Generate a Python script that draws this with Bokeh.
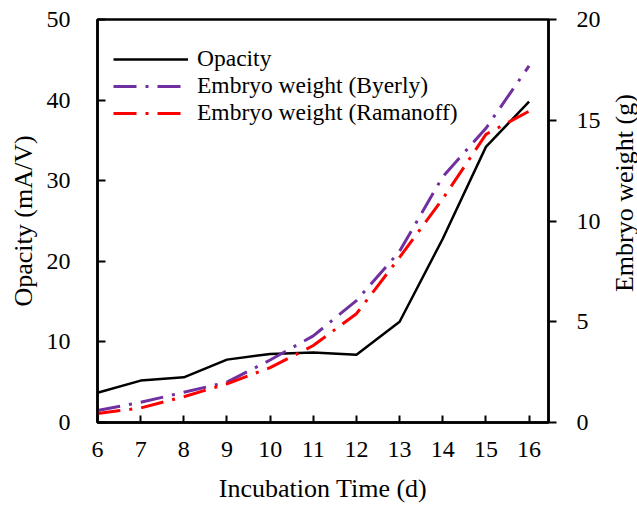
import math
from bokeh.plotting import figure
from bokeh.layouts import row
from bokeh.models import Range1d, LinearAxis, FixedTicker, Legend, LegendItem
from bokeh.core.properties import value
from bokeh.embed import file_html
from bokeh.resources import INLINE

days = [6, 7, 8, 9, 10, 11, 12, 13, 14, 15, 16]
opacity = [3.7, 5.2, 5.6, 7.8, 8.5, 8.7, 8.4, 12.5, 22.8, 34.2, 39.8]
byerly = [0.6, 1.0, 1.5, 2.0, 3.1, 4.3, 6.05, 8.5, 12.2, 14.6, 17.7]
ramanoff = [0.45, 0.72, 1.28, 1.92, 2.72, 3.82, 5.4, 8.2, 11.1, 14.3, 15.45]

left_ticks = [0, 10, 20, 30, 40, 50]
right_ticks = [0, 5, 10, 15, 20]

x_title = "Incubation Time (d)"
left_title = "Opacity (mA/V)"
right_title = "Embryo weight (g)"

FONT = "Liberation Serif"

p = figure(frame_width=451, frame_height=403, output_backend="svg", toolbar_location=None,
           x_range=Range1d(6, 16.45), y_range=Range1d(0, 50),
           min_border_left=97, min_border_right=62, min_border_top=19, min_border_bottom=84)
p.extra_y_ranges = {"w": Range1d(0, 20)}
p.xgrid.visible = False
p.ygrid.visible = False
p.outline_line_color = "black"
p.outline_line_width = 2.5
p.background_fill_color = "white"
p.border_fill_color = "white"

def style_axis(ax):
    ax.axis_line_width = 2.5
    ax.axis_line_color = "black"
    ax.major_tick_line_width = 2
    ax.major_tick_line_color = "black"
    ax.minor_tick_line_color = None
    ax.minor_tick_in = 0
    ax.minor_tick_out = 0
    ax.major_label_text_font = FONT
    ax.major_label_text_font_size = "24px"
    ax.major_label_text_color = "black"
    ax.axis_label_text_font = FONT
    ax.axis_label_text_font_size = "26px"
    ax.axis_label_text_font_style = "normal"
    ax.axis_label_text_color = "black"

xa = p.xaxis[0]
style_axis(xa)
xa.ticker = FixedTicker(ticks=days)
xa.major_tick_in = 7
xa.major_tick_out = 0
xa.major_label_standoff = 19
xa.axis_label = x_title
xa.axis_label_standoff = 14

ya = p.yaxis[0]
style_axis(ya)
ya.ticker = FixedTicker(ticks=left_ticks)
ya.major_tick_in = 8
ya.major_tick_out = 0
ya.major_label_standoff = 27
ya.axis_label = left_title
ya.axis_label_standoff = 6

ra = LinearAxis(y_range_name="w")
style_axis(ra)
ra.ticker = FixedTicker(ticks=right_ticks)
ra.major_tick_in = 0
ra.major_tick_out = 8
ra.major_label_standoff = 20
p.add_layout(ra, "right")

r1 = p.line(days, opacity, line_color="black", line_width=2.5)
r2 = p.line(days, byerly, y_range_name="w", line_color="#7030A0", line_width=3,
            line_dash="23 9 3 9")
r3 = p.line(days, ramanoff, y_range_name="w", line_color="#FF0000", line_width=3,
            line_dash="23 9 3 9")

legend = Legend(items=[LegendItem(label="Opacity", renderers=[r1]),
                       LegendItem(label="Embryo weight (Byerly)", renderers=[r2]),
                       LegendItem(label="Embryo weight (Ramanoff)", renderers=[r3])],
                location=(16, 296), padding=0, margin=0, spacing=0,
                glyph_width=75, glyph_height=20, label_height=20, label_standoff=9,
                label_text_font=FONT, label_text_font_size="23.5px", label_text_color="black",
                border_line_color=None, background_fill_alpha=0)
p.add_layout(legend, "center")

# narrow strip holding the right-axis title, which reads bottom-to-top
pt = figure(width=27, height=506, output_backend="svg", toolbar_location=None,
            x_range=Range1d(0, 1), y_range=Range1d(0, 506),
            x_axis_type=None, y_axis_type=None, min_border=0)
pt.outline_line_color = None
pt.xgrid.visible = False
pt.ygrid.visible = False
pt.background_fill_color = "white"
pt.border_fill_color = "white"
pt.text(x=[0.5], y=[288], text=[right_title], angle=math.pi / 2,
        text_align="center", text_baseline="middle",
        text_font=value(FONT), text_font_size=value("26px"), text_color="black")

layout = row(p, pt, spacing=0)

open("out.html", "w").write(file_html(layout, INLINE))
